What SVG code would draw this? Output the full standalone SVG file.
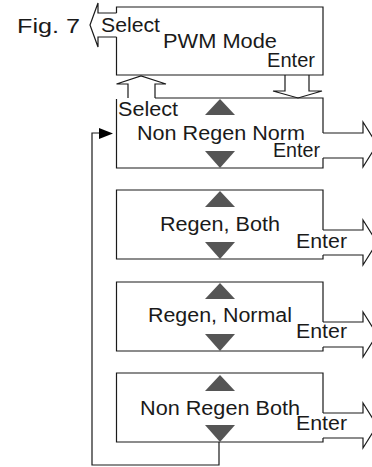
<svg xmlns="http://www.w3.org/2000/svg" width="372" height="467" viewBox="0 0 372 467">
  <style>
    .ln { fill: none; stroke: #1a1a1a; stroke-width: 1.2; stroke-linejoin: miter; }
    .blk { fill: #ffffff; stroke: #1a1a1a; stroke-width: 1.2; }
    .tri { fill: #555555; stroke: none; }
    .tx { font-family: "Liberation Sans", Arial, sans-serif; font-size: 20px; fill: #1a1a1a; }
  </style>
  <defs>
    <polygon id="up" class="tri" points="220,0 235,16 205,16"/>
    <polygon id="down" class="tri" points="205,0 235,0 220,17"/>
  </defs>

  <rect width="372" height="467" fill="#ffffff"/>

  <text class="tx" x="17" y="33" textLength="63" lengthAdjust="spacingAndGlyphs">Fig. 7</text>

  <!-- connectors: block arrows and the wrap-around loop -->
  <g id="connectors">
    <!-- Select exit from PWM Mode -->
    <path class="ln" d="M116.5,13 H98 V3 L90,25 L98,47 V37 H116.5"/>
    <!-- Select back up to PWM Mode -->
    <path class="blk" d="M128,98 V84 H116.5 L141,76 L166,84 H155 V98"/>
    <!-- Enter down into list -->
    <path class="blk" d="M285,75 V91 H273 L298,98 L322,91 H309 V75"/>
    <!-- Enter exits on the right -->
    <path class="ln" d="M323,133 H363 V122 L377,144.5 L363,167 V158 H323"/>
    <path class="ln" d="M323,230 H363 V220 L377,242.5 L363,265 V255 H323"/>
    <path class="ln" d="M323,322 H363 V312 L377,334.5 L363,357 V347 H323"/>
    <path class="ln" d="M323,413 H363 V403 L377,425.5 L363,448 V438 H323"/>
    <!-- loop from last item back to first -->
    <path class="ln" d="M219,442 V465 H92 V133 H100"/>
    <polygon fill="#000000" points="99,128 113,133.5 99,139"/>
  </g>

  <g id="pwm-mode">
    <path class="ln" d="M116.5,13 V7 H323 V75 H116.5 V37"/>
    <text class="tx" x="101" y="32" textLength="59" lengthAdjust="spacingAndGlyphs">Select</text>
    <text class="tx" x="163" y="48" textLength="114" lengthAdjust="spacingAndGlyphs">PWM Mode</text>
    <text class="tx" x="267" y="67" textLength="48" lengthAdjust="spacingAndGlyphs">Enter</text>
  </g>

  <g id="non-regen-norm">
    <path class="ln" d="M155,98 H323 V133 M323,158 V168 H116.5 V99"/>
    <use href="#up" x="0" y="99"/>
    <use href="#down" x="0" y="151"/>
    <text class="tx" x="118" y="116" textLength="60" lengthAdjust="spacingAndGlyphs">Select</text>
    <text class="tx" x="137" y="140" textLength="168" lengthAdjust="spacingAndGlyphs">Non Regen Norm</text>
    <text class="tx" x="273" y="157" textLength="47" lengthAdjust="spacingAndGlyphs">Enter</text>
  </g>

  <g id="regen-both">
    <path class="ln" d="M323,230 V190 H116.5 V259 H323 V255"/>
    <use href="#up" x="0" y="191"/>
    <use href="#down" x="0" y="242"/>
    <text class="tx" x="160" y="231" textLength="120" lengthAdjust="spacingAndGlyphs">Regen, Both</text>
    <text class="tx" x="296" y="248" textLength="51" lengthAdjust="spacingAndGlyphs">Enter</text>
  </g>

  <g id="regen-normal">
    <path class="ln" d="M323,322 V282 H116.5 V351 H323 V347"/>
    <use href="#up" x="0" y="283"/>
    <use href="#down" x="0" y="334"/>
    <text class="tx" x="148" y="322" textLength="144" lengthAdjust="spacingAndGlyphs">Regen, Normal</text>
    <text class="tx" x="296" y="338" textLength="51" lengthAdjust="spacingAndGlyphs">Enter</text>
  </g>

  <g id="non-regen-both">
    <path class="ln" d="M323,413 V373 H116.5 V442 H323 V438"/>
    <use href="#up" x="0" y="375"/>
    <use href="#down" x="0" y="425"/>
    <text class="tx" x="140" y="415" textLength="160" lengthAdjust="spacingAndGlyphs">Non Regen Both</text>
    <text class="tx" x="296" y="430" textLength="51" lengthAdjust="spacingAndGlyphs">Enter</text>
  </g>
</svg>
